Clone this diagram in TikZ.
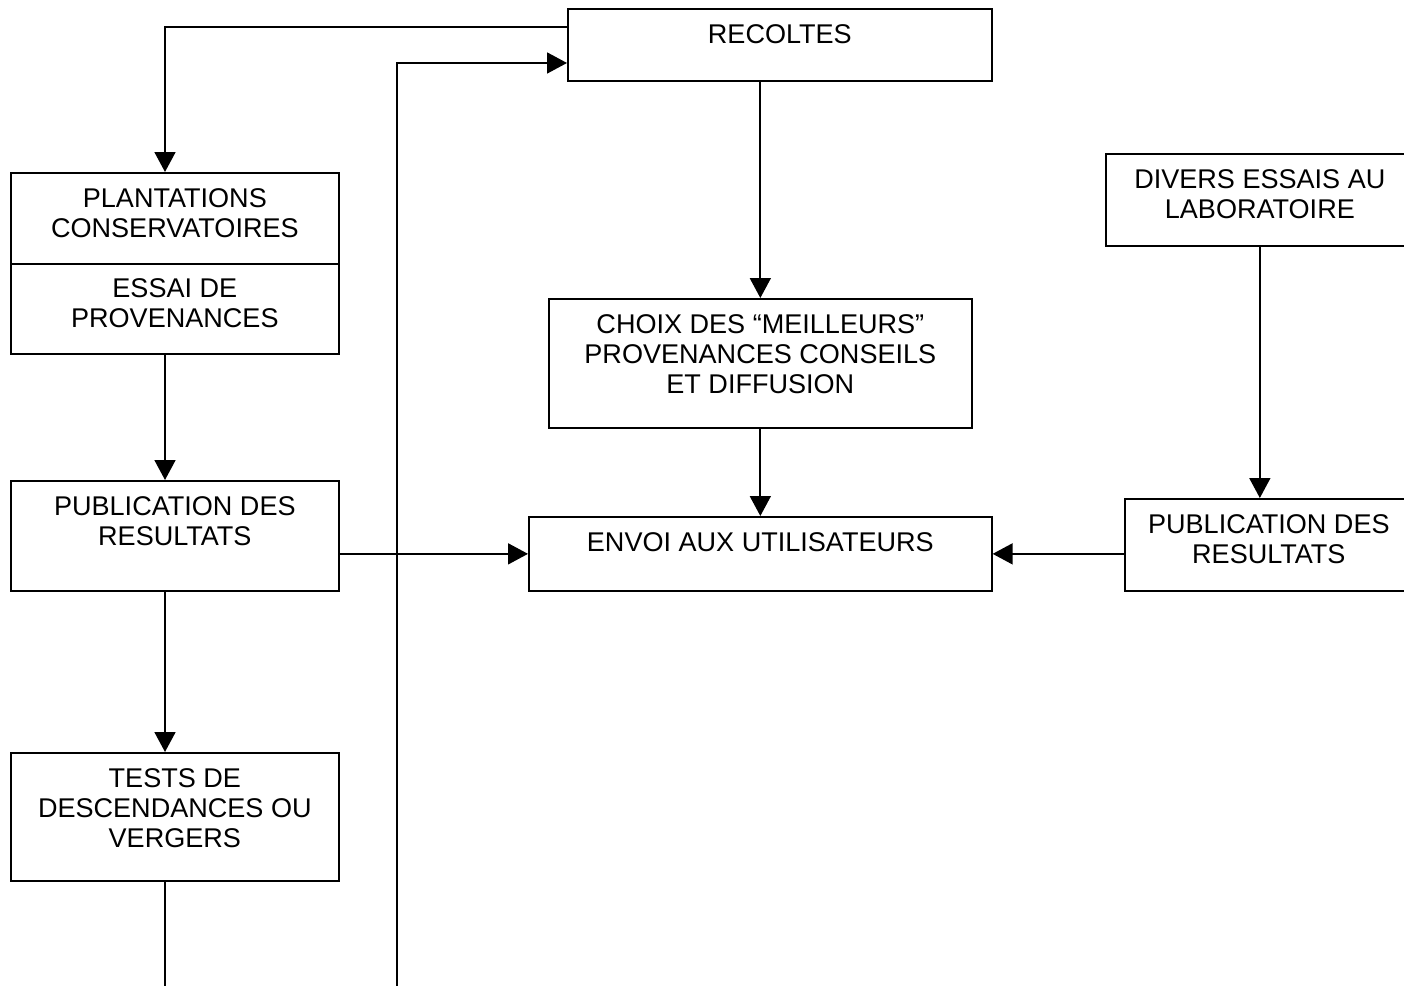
\documentclass[tikz,border=0pt]{standalone}
\usepackage{fontspec}
\setmainfont{Liberation Sans}
\usetikzlibrary{arrows.meta}

\begin{document}
\begin{tikzpicture}[x=0.02cm, y=-0.02cm,
    box/.style={draw, line width=1pt, inner sep=0pt, anchor=north west},
    txt/.style={anchor=north, inner sep=0pt, align=center, font=\fontsize{15.4}{17.07}\selectfont},
    arr/.style={line width=1pt, -{Triangle[length=0.4cm, width=0.42cm]}},
    lin/.style={line width=1pt}]
        \useasboundingbox (0,0) rectangle (1404,986);
        \coordinate (colL) at (165,0);
        \coordinate (botM) at (397,986);
        \coordinate (botL) at (165,986);
        % boxes
        \node[box, minimum width=8.48cm, minimum height=1.44cm] (recoltes) at (567,8) {};
        \node[box, minimum width=6.56cm, minimum height=1.82cm] (plant) at (10,172) {};
        \node[box, minimum width=6.56cm, minimum height=1.80cm] (essai) at (10,263) {};
        \node[box, minimum width=6.56cm, minimum height=2.20cm] (pubL) at (10,480) {};
        \node[box, minimum width=6.56cm, minimum height=2.56cm] (tests) at (10,752) {};
        \node[box, minimum width=8.46cm, minimum height=2.58cm] (choix) at (548,298) {};
        \node[box, minimum width=9.26cm, minimum height=1.48cm] (envoi) at (528,516) {};
        \node[box, minimum width=6.16cm, minimum height=1.84cm] (divers) at (1105,153) {};
        \node[box, minimum width=5.76cm, minimum height=1.84cm] (pubR) at (1124,498) {};
        % texts
        \node[txt] at ([yshift=-0.33cm]recoltes.north) {RECOLTES};
        \node[txt] at ([yshift=-0.33cm]plant.north) {PLANTATIONS\\CONSERVATOIRES};
        \node[txt] at ([yshift=-0.31cm]essai.north) {ESSAI DE\\PROVENANCES};
        \node[txt] at ([yshift=-0.33cm]pubL.north) {PUBLICATION DES\\RESULTATS};
        \node[txt] at ([yshift=-0.33cm]tests.north) {TESTS DE\\DESCENDANCES OU\\VERGERS};
        \node[txt] at ([yshift=-0.33cm]choix.north) {CHOIX DES “MEILLEURS”\\PROVENANCES CONSEILS\\ET DIFFUSION};
        \node[txt] at ([yshift=-0.33cm]envoi.north) {ENVOI AUX UTILISATEURS};
        \node[txt] at ([yshift=-0.33cm]divers.north) {DIVERS ESSAIS AU\\LABORATOIRE};
        \node[txt] at ([yshift=-0.33cm]pubR.north) {PUBLICATION DES\\RESULTATS};
        % connectors
        \draw[arr] ([yshift=-0.38cm]recoltes.north west) -| (plant.north -| colL);
        \draw[arr] (botM) |- ([yshift=-1.1cm]recoltes.north west);
        \draw[arr] (recoltes.south -| choix.north) -- (choix.north);
        \draw[arr] (choix.south) -- (choix.south |- envoi.north);
        \draw[arr] (essai.south -| colL) -- (pubL.north -| colL);
        \draw[arr] (pubL.east |- envoi.west) -- (envoi.west);
        \draw[arr] (divers.south) -- (divers.south |- pubR.north);
        \draw[arr] (pubR.west |- envoi.east) -- (envoi.east);
        \draw[arr] (pubL.south -| colL) -- (tests.north -| colL);
        \draw[lin] (tests.south -| colL) -- (botL);
\end{tikzpicture}
\end{document}
